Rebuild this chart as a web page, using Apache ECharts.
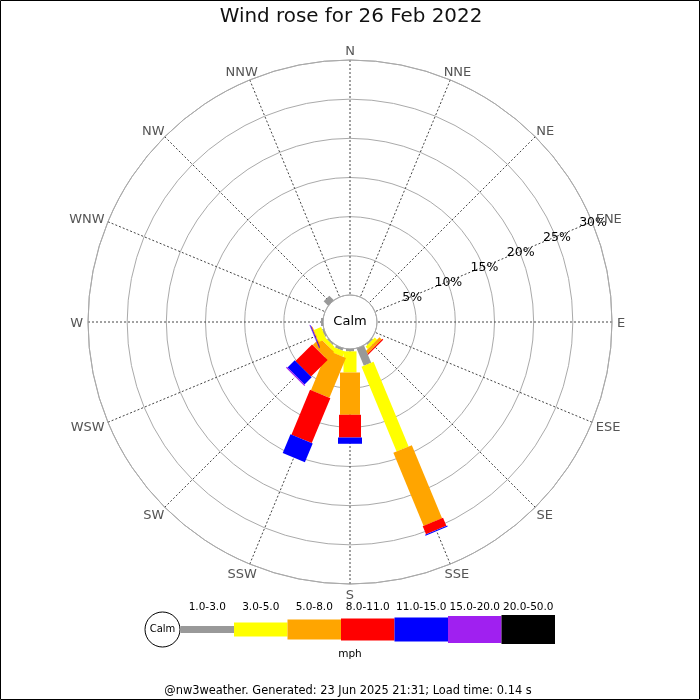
<!DOCTYPE html>
<html><head><meta charset="utf-8">
<script src="https://cdn.jsdelivr.net/npm/echarts@6/dist/echarts.min.js"></script>
<style>html,body{margin:0;padding:0;background:#fff}#c{width:700px;height:700px}</style>
</head><body><div id="c"></div>
<script>
const TITLE = 'Wind rose for 26 Feb 2022';
const FOOTER = '@nw3weather. Generated: 23 Jun 2025 21:31; Load time: 0.14 s';
const CALM_LABEL = 'Calm';
const UNIT = 'mph';
const DIRECTIONS = ['N','NNE','NE','ENE','E','ESE','SE','SSE','S','SSW','SW','WSW','W','WNW','NW','NNW'];
const SPEED_BINS = ['1.0-3.0','3.0-5.0','5.0-8.0','8.0-11.0','11.0-15.0','15.0-20.0','20.0-50.0'];
const RADIUS_TICKS = [5,10,15,20,25,30];
const RADIUS_LABEL_DIR = 'ENE';
// percent of observations per direction for each speed bin
//                 N  NNE NE ENE E ESE SE    SSE   S    SSW  SW   WSW   W    WNW NW  NNW
const PCT_1_3   = [0, 0,  0, 0,  0, 0, 0.2,  2.4,  0.3, 0.3, 0.2, 0.2,  0.25, 0, 0.8, 0];
const PCT_3_5   = [0, 0,  0, 0,  0, 0, 0.4,  11.7, 2.7, 0.7, 0.5, 1.0,  0,    0, 0,   0];
const PCT_5_8   = [0, 0,  0, 0,  0, 0, 0.4,  10.1, 5.4, 5.5, 1.3, 0.1,  0,    0, 0,   0];
const PCT_8_11  = [0, 0,  0, 0,  0, 0, 0.15, 1.1,  2.9, 6.2, 3.0, 0.05, 0,    0, 0,   0];
const PCT_11_15 = [0, 0,  0, 0,  0, 0, 0,    0.15, 0.8, 2.6, 1.3, 0.1,  0,    0, 0,   0];
const PCT_15_20 = [0, 0,  0, 0,  0, 0, 0,    0,    0,   0,   0.15,0.05, 0,    0, 0,   0];
const PCT_20_50 = [0, 0,  0, 0,  0, 0, 0,    0,    0,   0,   0,   0,    0,    0, 0,   0];

// styles
const BIN_COLORS = ['#999999','#ffff00','#ffa500','#ff0000','#0000ff','#a020f0','#000000'];
const BIN_WIDTHS = [8,13,20,22,24,26,28];
const LEGEND_HEIGHTS = [7,14,20,22,24,27,29];
const FONT = 'DejaVu Sans';
const RADIUS_MAX = 30;
const DIR_LABEL_GAP = 5;
const DIR_FONT_SIZE = 13;
const DIR_TEXT_H = 10;
const TEXT_Y_NUDGE = 1.5;

const measureCtx = document.createElement('canvas').getContext('2d');
measureCtx.font = DIR_FONT_SIZE + 'px "' + FONT + '"';

const ALL_BINS = [PCT_1_3, PCT_3_5, PCT_5_8, PCT_8_11, PCT_11_15, PCT_15_20, PCT_20_50];
const segments = [];
DIRECTIONS.forEach((d, i) => {
  let acc = 0;
  ALL_BINS.forEach((arr, b) => {
    const v = arr[i];
    if (v > 0) { segments.push([d, acc, acc + v, b]); acc += v; }
  });
});

function renderBar(params, api) {
  const cs = params.coordSys;
  const ang = api.value(0);
  const r0 = api.value(1), r1 = api.value(2), b = api.value(3);
  const p0 = api.coord([r0, ang]);
  const p1 = api.coord([r1, ang]);
  let ux = p1[0] - cs.cx, uy = p1[1] - cs.cy;
  const L = Math.hypot(ux, uy) || 1; ux /= L; uy /= L;
  const hw = BIN_WIDTHS[b] / 2;
  const nx = -uy * hw, ny = ux * hw;
  return {
    type: 'polygon',
    shape: { points: [[p0[0]+nx, p0[1]+ny], [p1[0]+nx, p1[1]+ny], [p1[0]-nx, p1[1]-ny], [p0[0]-nx, p0[1]-ny]] },
    style: { fill: BIN_COLORS[b] }
  };
}
function renderRadiusLabel(params, api) {
  const p = api.coord([api.value(0), api.value(1)]);
  return { type: 'text', x: p[0] + 1, y: p[1] + 1,
    style: { text: api.value(0) + '%', align: 'center', verticalAlign: 'middle', fill: '#000', fontSize: 12.5, fontFamily: FONT } };
}
function renderDirLabel(params, api) {
  const cs = params.coordSys;
  const ang = api.value(0);
  const p = api.coord([RADIUS_MAX, ang]);
  let ux = p[0] - cs.cx, uy = p[1] - cs.cy;
  const L = Math.hypot(ux, uy) || 1; ux /= L; uy /= L;
  const text = DIRECTIONS[params.dataIndex];
  const w = measureCtx.measureText(text).width;
  return { type: 'text',
    x: p[0] + ux * (DIR_LABEL_GAP + w / 2),
    y: p[1] + uy * (DIR_LABEL_GAP + DIR_TEXT_H / 2) + TEXT_Y_NUDGE,
    style: { text: text, align: 'center', verticalAlign: 'middle', fill: '#555', fontSize: DIR_FONT_SIZE, fontFamily: FONT } };
}

const graphics = [];
graphics.push({ type: 'text', x: 351, y: 17, style: { text: TITLE, align: 'center', verticalAlign: 'middle', fontSize: 19.9, fontFamily: FONT, fill: '#111' } });
graphics.push({ type: 'text', x: 350, y: 322, z: 50, style: { text: CALM_LABEL, align: 'center', verticalAlign: 'middle', fontSize: 13, fontFamily: FONT, fill: '#000' } });
graphics.push({ type: 'text', x: 348, y: 691, style: { text: FOOTER, align: 'center', verticalAlign: 'middle', fontSize: 11.4, fontFamily: FONT, fill: '#000' } });
// legend
const LX = 180.5, LW = 53.5, LY = 629.5;
graphics.push({ type: 'circle', shape: { cx: 162.5, cy: LY, r: 17.5 }, style: { fill: '#fff', stroke: '#000', lineWidth: 1 } });
graphics.push({ type: 'text', x: 162.5, y: LY, style: { text: CALM_LABEL, align: 'center', verticalAlign: 'middle', fontSize: 10, fontFamily: FONT, fill: '#000' } });
SPEED_BINS.forEach((lab, b) => {
  const h = LEGEND_HEIGHTS[b];
  graphics.push({ type: 'rect', shape: { x: LX + b * LW, y: LY - h / 2, width: LW, height: h }, style: { fill: BIN_COLORS[b] } });
  graphics.push({ type: 'text', x: LX + b * LW + LW / 2, y: 607, style: { text: lab, align: 'center', verticalAlign: 'middle', fontSize: 10.5, fontFamily: FONT, fill: '#000' } });
});
graphics.push({ type: 'text', x: 350, y: 654, style: { text: UNIT, align: 'center', verticalAlign: 'middle', fontSize: 10.5, fontFamily: FONT, fill: '#000' } });
graphics.push({ type: 'rect', shape: { x: 0.5, y: 0.5, width: 699, height: 699 }, style: { fill: 'none', stroke: '#000', lineWidth: 1 }, z: 100, silent: true });

const chart = echarts.init(document.getElementById('c'), null, { renderer: 'canvas' });
chart.setOption({
  backgroundColor: '#fff',
  animation: false,
  polar: { center: [350, 322], radius: [27, 262] },
  angleAxis: {
    type: 'category', data: DIRECTIONS, startAngle: 90 + 360 / 32, clockwise: true, boundaryGap: true,
    axisLine: { show: true, lineStyle: { color: '#aaa', width: 1 } },
    axisTick: { show: false, alignWithLabel: true },
    axisLabel: { show: false },
    splitLine: { show: true, lineStyle: { color: '#444', width: 1, type: [2, 2] } },
    splitArea: { show: false }
  },
  radiusAxis: {
    type: 'value', min: 0, max: RADIUS_MAX, interval: 5,
    axisLine: { show: false }, axisTick: { show: false }, axisLabel: { show: false },
    splitLine: { show: true, lineStyle: { color: '#aaa', width: 1 } }
  },
  series: [
    { type: 'custom', coordinateSystem: 'polar', renderItem: renderBar, data: segments, encode: { angle: 0, radius: 2 }, z: 5, silent: true },
    { type: 'custom', coordinateSystem: 'polar', renderItem: renderRadiusLabel,
      data: RADIUS_TICKS.map(v => [v, RADIUS_LABEL_DIR]), encode: { radius: 0, angle: 1 }, z: 6, silent: true },
    { type: 'custom', coordinateSystem: 'polar', renderItem: renderDirLabel,
      data: DIRECTIONS.map(d => [d]), encode: { angle: 0 }, z: 6, silent: true }
  ],
  graphic: graphics
});
</script></body></html>
